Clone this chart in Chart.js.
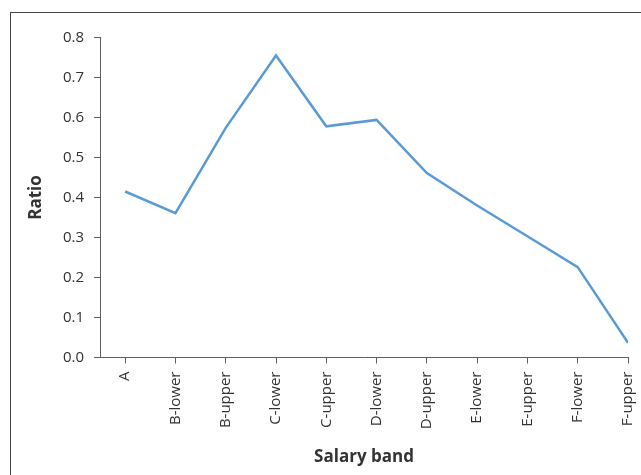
<!DOCTYPE html>
<html>
<head>
<meta charset="utf-8">
<script src="https://cdn.jsdelivr.net/npm/chart.js@4"></script>
<style>
  html, body { margin: 0; padding: 0; background: #fff; overflow: hidden; }
  #wrap { position: relative; width: 641px; height: 475px; }
  #frame { position: absolute; left: 10px; top: 12px; width: 700px; height: 500px;
           border-left: 1px solid #444; border-top: 1px solid #444; }
  #chart { position: absolute; left: 0; top: 0; }
</style>
</head>
<body>
<div id="wrap">
  <div id="frame"></div>
  <canvas id="chart" width="641" height="475"></canvas>
</div>
<script>
// Salary bands and ratio values
const bands = ['A', 'B-lower', 'B-upper', 'C-lower', 'C-upper', 'D-lower',
               'D-upper', 'E-lower', 'E-upper', 'F-lower', 'F-upper'];
const ratios = [0.415, 0.361, 0.574, 0.755, 0.578, 0.594,
                0.461, 0.380, 0.303, 0.226, 0.037];
const yTicks = [0, 0.1, 0.2, 0.3, 0.4, 0.5, 0.6, 0.7, 0.8];

const axisColor = '#5f5f5f';
const textColor = '#333333';

function plotRatio(id) {
    const ctx = document.getElementById(id).getContext('2d');

    const points = ratios.map((r, i) => ({ x: i, y: r }));

    new Chart(ctx, {
        type: 'line',
        data: {
            datasets: [{
                data: points,
                borderColor: '#5B9BD5',
                borderWidth: 2.5,
                pointRadius: 0,
                tension: 0,
                fill: false
            }]
        },
        options: {
            responsive: false,
            animation: false,
            layout: { padding: { left: 0, top: 37.5, right: 13, bottom: 0 } },
            plugins: { legend: { display: false }, tooltip: { enabled: false } },
            scales: {
                x: {
                    type: 'linear',
                    min: -0.5,
                    max: bands.length - 1,
                    afterFit: scale => {
                        scale.height = 117.5;
                        scale.paddingLeft = 0;
                        scale.paddingRight = 0;
                    },
                    afterBuildTicks: scale => {
                        scale.ticks = bands.map((b, i) => ({ value: i }));
                    },
                    ticks: {
                        callback: v => bands[v],
                        autoSkip: false,
                        minRotation: 90,
                        maxRotation: 90,
                        padding: 8,
                        color: textColor,
                        font: { family: 'Open Sans', size: 15 }
                    },
                    grid: { drawOnChartArea: false, tickLength: 6, color: axisColor },
                    border: { color: axisColor, width: 1 },
                    title: {
                        display: true,
                        text: 'Salary band',
                        color: textColor,
                        padding: { top: 0, bottom: 8 },
                        font: { family: 'Open Sans', size: 17, weight: 'bold' }
                    }
                },
                y: {
                    min: 0,
                    max: 0.8,
                    afterFit: scale => {
                        scale.width = 100;
                        scale.paddingTop = 0;
                        scale.paddingBottom = 0;
                    },
                    afterBuildTicks: scale => {
                        scale.ticks = yTicks.map(v => ({ value: v }));
                    },
                    ticks: {
                        callback: v => v.toFixed(1),
                        padding: 10,
                        color: textColor,
                        font: { family: 'Open Sans', size: 15 }
                    },
                    grid: { drawOnChartArea: false, tickLength: 6, color: axisColor },
                    border: { color: axisColor, width: 1 },
                    title: {
                        display: true,
                        text: 'Ratio',
                        color: textColor,
                        padding: { top: 26, bottom: 0 },
                        font: { family: 'Open Sans', size: 17, weight: 'bold' }
                    }
                }
            }
        }
    });
}

plotRatio('chart');
</script>
</body>
</html>
